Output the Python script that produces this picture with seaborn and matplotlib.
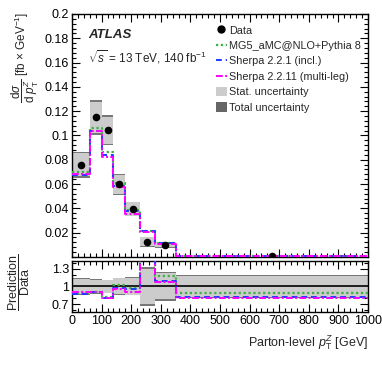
import numpy as np
import pandas as pd
import matplotlib
matplotlib.use("Agg")
import matplotlib.pyplot as plt
from matplotlib.patches import Patch
from matplotlib.lines import Line2D
import seaborn as sns

# ---------------- data ----------------
edges = [0, 60, 100, 140, 180, 230, 280, 350, 1000]
centers = [30, 80, 120, 160, 205, 255, 315, 675]
data = [0.076, 0.1148, 0.1043, 0.0596, 0.0395, 0.0126, 0.0101, 0.0006]
stat_rel = [0.125, 0.112, 0.105, 0.135, 0.14, 0.30, 0.22, 0.18]
tot_rel = [0.14, 0.125, 0.117, 0.148, 0.152, 0.33, 0.24, 0.195]

mg5 = [0.0695, 0.106, 0.0865, 0.0605, 0.0387, 0.0215, 0.0118, 0.00054]
sherpa221 = [0.0675, 0.104, 0.0835, 0.0585, 0.0378, 0.0210, 0.0111, 0.00049]
sherpa2211 = [0.0685, 0.1035, 0.0825, 0.0572, 0.0355, 0.0205, 0.0109, 0.00048]

ratio_mg5 = [0.89, 0.91, 0.83, 1.02, 0.98, 1.70, 1.17, 0.895]
ratio_sh221 = [0.88, 0.90, 0.805, 0.98, 0.95, 1.66, 1.10, 0.82]
ratio_sh2211 = [0.90, 0.905, 0.80, 0.96, 0.90, 1.62, 1.08, 0.81]

labels = ["Data", "MG5_aMC@NLO+Pythia 8", "Sherpa 2.2.1 (incl.)",
          "Sherpa 2.2.11 (multi-leg)", "Stat. uncertainty", "Total uncertainty"]

# ---------------- style ----------------
sns.set_theme(style="ticks")
plt.rcParams["font.family"] = ["Liberation Sans", "DejaVu Sans"]
plt.rcParams["mathtext.fontset"] = "custom"
plt.rcParams["mathtext.rm"] = "Liberation Sans"
plt.rcParams["mathtext.it"] = "Liberation Sans:italic"
plt.rcParams["mathtext.bf"] = "Liberation Sans:bold"
plt.rcParams["mathtext.sf"] = "Liberation Sans"

c_green = "#3cb043"
c_blue = "#1f3cff"
c_mag = "#ff00ff"
c_stat = "#cccccc"
c_tot = "#777777"

fig = plt.figure(figsize=(3.82, 3.67), dpi=100)
ax = fig.add_axes([0.1885, 0.300, 0.775, 0.662])
rax = fig.add_axes([0.1885, 0.150, 0.775, 0.139])

edges_a = np.array(edges, dtype=float)
widths = np.diff(edges_a)


def step_df(vals):
    return pd.DataFrame({"x": edges, "y": list(vals) + [vals[-1]]})


def draw_band(a, center, rel, color):
    c = np.array(center, dtype=float)
    r = np.array(rel, dtype=float)
    a.bar(edges_a[:-1], 2 * c * r, bottom=c - c * r, width=widths,
          align="edge", color=color, edgecolor="none", linewidth=0, zorder=1)


ls_green = (0, (1, 1.2))
ls_blue = (0, (3, 2))
ls_mag = (0, (3.5, 1.2, 1, 1.2))

# main panel bands
draw_band(ax, data, tot_rel, c_tot)
draw_band(ax, data, stat_rel, c_stat)

for vals, col, ls, lw in [(mg5, c_green, ls_green, 1.6),
                          (sherpa221, c_blue, ls_blue, 1.4),
                          (sherpa2211, c_mag, ls_mag, 1.4)]:
    sns.lineplot(data=step_df(vals), x="x", y="y", ax=ax, drawstyle="steps-post",
                 color=col, linestyle=ls, linewidth=lw, zorder=3)

dpts = pd.DataFrame({"x": centers, "y": data})
sns.scatterplot(data=dpts, x="x", y="y", ax=ax, color="black", s=30,
                edgecolor="black", linewidth=0, zorder=5)

ax.set_xlim(0, 1000)
ax.set_ylim(0, 0.2)
ax.set_xlabel("")
ax.set_ylabel("")
ax.set_yticks([0.02, 0.04, 0.06, 0.08, 0.1, 0.12, 0.14, 0.16, 0.18, 0.2])
ax.set_yticklabels(["0.02", "0.04", "0.06", "0.08", "0.1", "0.12", "0.14",
                    "0.16", "0.18", "0.2"])
ax.set_yticks(np.arange(0, 0.2001, 0.004), minor=True)
ax.set_xticks(np.arange(0, 1001, 100))
ax.set_xticks(np.arange(0, 1001, 20), minor=True)
ax.tick_params(labelbottom=False)

# ratio panel
ones = np.ones(len(data))
draw_band(rax, ones, tot_rel, c_tot)
draw_band(rax, ones, stat_rel, c_stat)
rax.axhline(1.0, color="black", linewidth=1.2, zorder=2)
for vals, col, ls, lw in [(ratio_mg5, c_green, ls_green, 1.6),
                          (ratio_sh221, c_blue, ls_blue, 1.4),
                          (ratio_sh2211, c_mag, ls_mag, 1.4)]:
    sns.lineplot(data=step_df(vals), x="x", y="y", ax=rax, drawstyle="steps-post",
                 color=col, linestyle=ls, linewidth=lw, zorder=3)
rax.set_xlim(0, 1000)
rax.set_ylim(0.57, 1.43)
rax.set_yticks([0.7, 1.0, 1.3])
rax.set_yticklabels(["0.7", "1", "1.3"])
rax.set_yticks(np.arange(0.6, 1.41, 0.1), minor=True)
rax.set_xticks(np.arange(0, 1001, 100))
rax.set_xticks(np.arange(0, 1001, 20), minor=True)
rax.set_xlabel("")
rax.set_ylabel("")

for a in (ax, rax):
    a.tick_params(which="both", direction="in", top=True, right=True,
                  labelsize=9, colors="black", pad=2)
    a.tick_params(which="major", length=6, width=0.8)
    a.tick_params(which="minor", length=3, width=0.8)
    for sp in a.spines.values():
        sp.set_linewidth(1.0)
        sp.set_color("black")

# texts
fig.text(88 / 382, 1 - 35 / 367, "ATLAS", fontsize=9.5, fontweight="bold",
         fontstyle="italic", va="center", ha="left")
fig.text(88 / 382, 1 - 57 / 367, r"$\sqrt{s}$ = 13 TeV, 140 fb$^{-1}$",
         fontsize=8.5, va="center", ha="left")

fig.text(10 / 382, 1 - 12 / 367,
         r"$\dfrac{\mathrm{d}\sigma}{\mathrm{d}\ p_{\mathrm{T}}^{Z}}$ [fb $\times$ GeV$^{-1}$]",
         rotation=90, fontsize=8.5, va="top", ha="left")
fig.text(6 / 382, 1 - 282 / 367,
         r"$\dfrac{\mathrm{Prediction}}{\mathrm{Data}}$",
         rotation=90, fontsize=9, va="center", ha="left")
fig.text(368 / 382, 1 - 343 / 367,
         r"Parton-level $p_{\mathrm{T}}^{Z}$ [GeV]",
         fontsize=9, va="center", ha="right")

handles = [
    Line2D([], [], marker="o", color="black", linestyle="none", markersize=5),
    Line2D([], [], color=c_green, linestyle=ls_green, linewidth=1.6),
    Line2D([], [], color=c_blue, linestyle=ls_blue, linewidth=1.4),
    Line2D([], [], color=c_mag, linestyle=ls_mag, linewidth=1.4),
    Patch(facecolor=c_stat, edgecolor="none"),
    Patch(facecolor="#666666", edgecolor="none"),
]
leg = fig.legend(handles, labels, loc="upper left",
                 bbox_to_anchor=(216 / 382, 1 - 25 / 367),
                 frameon=False, fontsize=7.8, handlelength=1.0,
                 handleheight=1.0, handletextpad=0.2, labelspacing=0.45,
                 borderaxespad=0, borderpad=0)

fig.savefig("out.png", dpi=100)
